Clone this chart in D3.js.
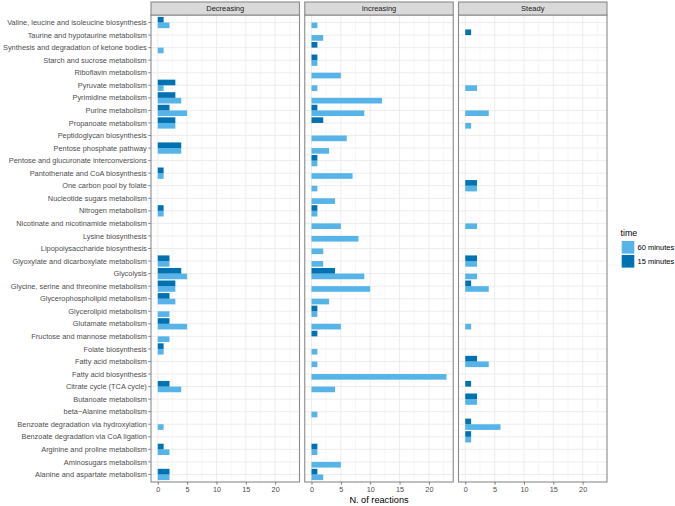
<!DOCTYPE html>
<html>
<head>
<meta charset="utf-8">
<script src="https://cdn.jsdelivr.net/npm/d3@7"></script>
<style>
  html, body { margin: 0; padding: 0; background: #fff; }
  svg { display: block; font-family: "Liberation Sans", Arial, Helvetica, sans-serif; }
</style>
</head>
<body>
<svg id="chart" width="675" height="506"></svg>
<script>
const categories = [
  "Valine, leucine and isoleucine biosynthesis",
  "Taurine and hypotaurine metabolism",
  "Synthesis and degradation of ketone bodies",
  "Starch and sucrose metabolism",
  "Riboflavin metabolism",
  "Pyruvate metabolism",
  "Pyrimidine metabolism",
  "Purine metabolism",
  "Propanoate metabolism",
  "Peptidoglycan biosynthesis",
  "Pentose phosphate pathway",
  "Pentose and glucuronate interconversions",
  "Pantothenate and CoA biosynthesis",
  "One carbon pool by folate",
  "Nucleotide sugars metabolism",
  "Nitrogen metabolism",
  "Nicotinate and nicotinamide metabolism",
  "Lysine biosynthesis",
  "Lipopolysaccharide biosynthesis",
  "Glyoxylate and dicarboxylate metabolism",
  "Glycolysis",
  "Glycine, serine and threonine metabolism",
  "Glycerophospholipid metabolism",
  "Glycerolipid metabolism",
  "Glutamate metabolism",
  "Fructose and mannose metabolism",
  "Folate biosynthesis",
  "Fatty acid metabolism",
  "Fatty acid biosynthesis",
  "Citrate cycle (TCA cycle)",
  "Butanoate metabolism",
  "beta\u2212Alanine metabolism",
  "Benzoate degradation via hydroxylation",
  "Benzoate degradation via CoA ligation",
  "Arginine and proline metabolism",
  "Aminosugars metabolism",
  "Alanine and aspartate metabolism"
];
const facets = ["Decreasing", "Increasing", "Steady"];
const seriesNames = ["60 minutes", "15 minutes"];
const xTicks = [0, 5, 10, 15, 20];
const xMinor = [2.5, 7.5, 12.5, 17.5, 22.5];

// values per category (same order as categories)
const decreasing15 = [1,0,0,0,0,3,3,2,3,0,4,0,1,0,0,1,0,0,0,2,4,3,2,0,2,0,1,0,0,2,0,0,0,0,1,0,2];
const decreasing60 = [2,0,1,0,0,1,4,5,3,0,4,0,1,0,0,1,0,0,0,2,5,3,3,2,5,2,1,0,0,4,0,0,1,0,2,0,2];
const increasing15 = [0,0,1,1,0,0,0,1,2,0,0,1,0,0,0,1,0,0,0,0,4,0,0,1,0,1,0,0,0,0,0,0,0,0,1,0,1];
const increasing60 = [1,2,0,1,5,1,12,9,0,6,3,1,7,1,4,1,5,8,2,2,9,10,3,1,5,0,1,1,23,4,0,1,0,0,1,5,2];
const steady15     = [0,1,0,0,0,0,0,0,0,0,0,0,0,2,0,0,0,0,0,2,0,1,0,0,0,0,0,2,0,1,2,0,1,1,0,0,0];
const steady60     = [0,0,0,0,0,2,0,4,1,0,0,0,0,2,0,0,2,0,0,2,2,4,0,0,1,0,0,4,0,0,2,0,6,1,0,0,0];

const facetData = {
  "Decreasing": {"60 minutes": decreasing60, "15 minutes": decreasing15},
  "Increasing": {"60 minutes": increasing60, "15 minutes": increasing15},
  "Steady":     {"60 minutes": steady60,     "15 minutes": steady15}
};

const colors = {"60 minutes": "#56B4E9", "15 minutes": "#0072B2"};

const svg = d3.select("#chart");

const panelTop = 15, panelBottom = 482, stripTop = 2;
const panelLeft0 = 151, panelW = 148.5, gap = 5.25;

const maxV = d3.max([].concat(decreasing60, decreasing15, increasing60, increasing15, steady60, steady15));
const pad = maxV * 0.05;

const y = d3.scaleLinear()
  .domain([0.4, categories.length + 0.6])
  .range([panelTop, panelBottom]);
const rowPos = (i) => y(i + 1);
const unit = y(1) - y(0);
const barH = unit * 0.45;

// Left axis labels
const yAxisG = svg.append("g");
categories.forEach((c, i) => {
  yAxisG.append("line")
    .attr("x1", panelLeft0 - 2.7).attr("x2", panelLeft0)
    .attr("y1", rowPos(i)).attr("y2", rowPos(i))
    .attr("stroke", "#333").attr("stroke-width", 0.6);
  yAxisG.append("text")
    .attr("x", panelLeft0 - 4.2).attr("y", rowPos(i))
    .attr("dy", "0.35em")
    .attr("text-anchor", "end")
    .attr("font-size", 7.4)
    .attr("fill", "#4d4d4d")
    .text(c);
});

facets.forEach((f, fi) => {
  const left = panelLeft0 + fi * (panelW + gap);
  const x = d3.scaleLinear().domain([-pad, maxV + pad]).range([left, left + panelW]);
  const g = svg.append("g");

  // panel background
  g.append("rect").attr("x", left).attr("y", panelTop)
    .attr("width", panelW).attr("height", panelBottom - panelTop)
    .attr("fill", "#fff");

  // minor vertical grid
  g.selectAll(".minor").data(xMinor).enter().append("line")
    .attr("x1", d => x(d)).attr("x2", d => x(d))
    .attr("y1", panelTop).attr("y2", panelBottom)
    .attr("stroke", "#f2f2f2").attr("stroke-width", 0.6);
  // major vertical grid
  g.selectAll(".major").data(xTicks).enter().append("line")
    .attr("x1", d => x(d)).attr("x2", d => x(d))
    .attr("y1", panelTop).attr("y2", panelBottom)
    .attr("stroke", "#ebebeb").attr("stroke-width", 0.9);
  // horizontal grid
  g.selectAll(".hgrid").data(categories).enter().append("line")
    .attr("x1", left).attr("x2", left + panelW)
    .attr("y1", (d, i) => rowPos(i)).attr("y2", (d, i) => rowPos(i))
    .attr("stroke", "#ebebeb").attr("stroke-width", 0.9);

  // bars: 15 minutes on top half, 60 minutes on bottom half
  seriesNames.forEach(s => {
    const vals = facetData[f][s];
    const offset = s === "15 minutes" ? -barH : 0;
    g.selectAll(null).data(vals.map((v, i) => ({v, i})).filter(d => d.v > 0))
      .enter().append("rect")
      .attr("x", x(0))
      .attr("y", d => rowPos(d.i) + offset)
      .attr("width", d => x(d.v) - x(0))
      .attr("height", barH)
      .attr("fill", colors[s]);
  });

  // panel border
  g.append("rect").attr("x", left).attr("y", panelTop)
    .attr("width", panelW).attr("height", panelBottom - panelTop)
    .attr("fill", "none").attr("stroke", "#8a8a8a").attr("stroke-width", 1.1);

  // strip
  g.append("rect").attr("x", left).attr("y", stripTop)
    .attr("width", panelW).attr("height", panelTop - stripTop)
    .attr("fill", "#d9d9d9").attr("stroke", "#8a8a8a").attr("stroke-width", 1.1);
  g.append("text")
    .attr("x", left + panelW / 2).attr("y", (stripTop + panelTop) / 2)
    .attr("dy", "0.35em").attr("text-anchor", "middle")
    .attr("font-size", 7.5).attr("fill", "#1a1a1a")
    .text(f);

  // x axis
  const xAxis = d3.axisBottom(x).tickValues(xTicks).tickSize(2.7).tickPadding(2);
  const ax = g.append("g").attr("transform", `translate(0,${panelBottom})`).call(xAxis);
  ax.select(".domain").remove();
  ax.selectAll(".tick line").attr("stroke", "#333").attr("stroke-width", 0.6);
  ax.selectAll(".tick text").attr("font-size", 7.3).attr("fill", "#4d4d4d")
    .attr("font-family", "Liberation Sans, Arial, sans-serif");
});

// x axis title
const totalLeft = panelLeft0, totalRight = panelLeft0 + 3 * panelW + 2 * gap;
svg.append("text")
  .attr("x", (totalLeft + totalRight) / 2).attr("y", 503)
  .attr("text-anchor", "middle").attr("font-size", 9.2).attr("fill", "#000")
  .text("N. of reactions");

// legend
const lg = svg.append("g");
lg.append("text").attr("x", 620.5).attr("y", 236)
  .attr("font-size", 8.8).attr("fill", "#000").text("time");
seriesNames.forEach((s, i) => {
  const ky = 241 + i * 14;
  lg.append("rect").attr("x", 621.7).attr("y", ky)
    .attr("width", 12.6).attr("height", 12.6).attr("fill", colors[s]);
  lg.append("text").attr("x", 637.5).attr("y", ky + 6.3).attr("dy", "0.35em")
    .attr("font-size", 7.5).attr("fill", "#000").text(s);
});
</script>
</body>
</html>
